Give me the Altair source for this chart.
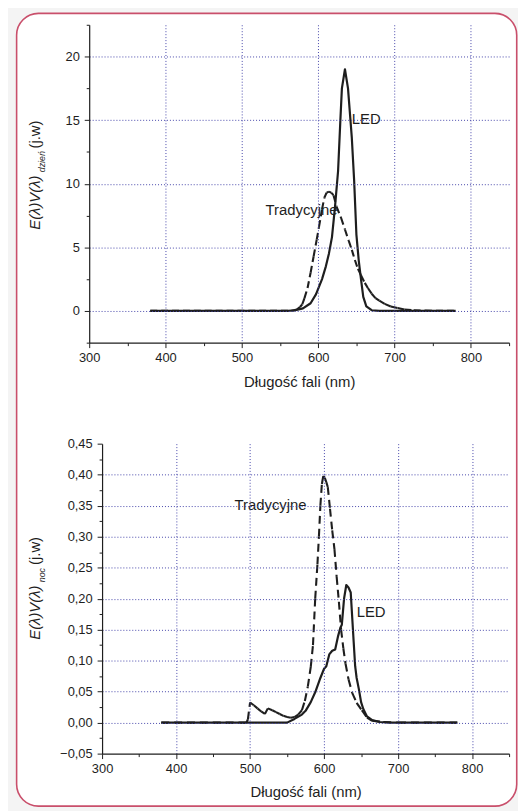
import altair as alt
import pandas as pd

FONT = "Liberation Sans"
INK = "#1e1e1e"

# ---------------- data ----------------
x_ticks = [300, 350, 400, 450, 500, 550, 600, 650, 700, 750, 800, 850]

# top panel: E(λ)V(λ) dzień
top_led_x = [380, 560, 570, 580, 590, 597, 605, 610, 614, 618, 622, 626, 629, 631, 635, 639,
             644, 647, 650, 653, 656, 659, 663, 670, 680, 780]
top_led_y = [0, 0, 0.05, 0.2, 0.6, 1.3, 2.5, 3.5, 4.5, 5.8, 8.2, 11.0, 15.0, 17.5, 19.0, 17.5,
             13.6, 10.3, 6.0, 4.0, 2.5, 1.1, 0.35, 0.05, 0, 0]
top_trad_x = [380, 565, 572, 576, 579, 582, 586, 590, 594, 598, 601, 605, 608, 611, 614, 617,
              620, 624, 630, 635, 640, 644, 648, 652, 656, 661, 665, 670, 675, 680, 687, 695,
              704, 713, 725, 740, 780]
top_trad_y = [0, 0, 0.1, 0.3, 0.5, 1.0, 1.8, 3.0, 4.3, 5.6, 6.6, 8.0, 8.9, 9.3, 9.38, 9.3,
              9.1, 8.2, 7.3, 6.4, 5.5, 4.8, 4.0, 3.3, 2.8, 2.2, 1.8, 1.35, 1.0, 0.8, 0.55, 0.35,
              0.22, 0.1, 0.05, 0.02, 0]
top_y_ticks = [-2.5, 0, 2.5, 5, 7.5, 10, 12.5, 15, 17.5, 20, 22.5]
top_label_text = ["LED", "Tradycyjne"]
top_label_x = [644, 531]
top_label_y = [15.1, 7.95]

# bottom panel: E(λ)V(λ) noc
bot_led_x = [380, 550, 560, 570, 575, 582, 588, 595, 600, 603, 607, 611, 615, 619, 622, 624,
             627, 630, 633, 636, 640, 642, 644, 647, 650, 653, 658, 665, 675, 690, 780]
bot_led_y = [0, 0, 0.006, 0.013, 0.019, 0.033, 0.049, 0.072, 0.087, 0.091, 0.11, 0.116, 0.118,
             0.14, 0.153, 0.158, 0.2, 0.222, 0.218, 0.21, 0.13, 0.091, 0.072, 0.054, 0.033,
             0.022, 0.01, 0.004, 0.001, 0, 0]
bot_trad_x = [380, 495, 497, 500, 505, 510, 515, 520, 524, 530, 535, 540, 545, 550, 555, 560,
              565, 570, 574, 578, 582, 585, 588, 591, 593, 595, 597, 599, 601, 603, 605, 608,
              611, 614, 617, 620, 623, 626, 629, 633, 638, 644, 651, 658, 665, 680, 700, 780]
bot_trad_y = [0, 0, 0.005, 0.0325, 0.028, 0.023, 0.018, 0.014, 0.023, 0.02, 0.017, 0.014,
              0.011, 0.009, 0.008, 0.009, 0.013, 0.02, 0.035, 0.058, 0.09, 0.125, 0.2, 0.255,
              0.3, 0.35, 0.385, 0.398, 0.395, 0.388, 0.38, 0.345, 0.31, 0.28, 0.235, 0.195,
              0.15, 0.12, 0.095, 0.07, 0.048, 0.032, 0.02, 0.008, 0.003, 0.001, 0, 0]
bot_y_ticks = [-0.05, -0.025, 0, 0.025, 0.05, 0.075, 0.1, 0.125, 0.15, 0.175, 0.2, 0.225, 0.25,
               0.275, 0.3, 0.325, 0.35, 0.375, 0.4, 0.425, 0.45]
bot_label_text = ["Tradycyjne", "LED"]
bot_label_x = [479, 644]
bot_label_y = [0.351, 0.178]

X_TITLE = "Długość fali (nm)"


# ---------------- helpers ----------------
def common_axis(**kw):
    base = dict(
        grid=True, gridColor="#4646aa", gridDash=[1, 2], gridWidth=1,
        domainColor=INK, domainWidth=1.2, tickColor=INK, tickWidth=1,
        labelFont=FONT, labelFontSize=13, labelColor=INK, labelOverlap=False,
        labelFlush=False, titleFont=FONT, titleFontSize=15, titleFontWeight="normal",
        titleColor=INK, zindex=1, tickCount=200,
    )
    base.update(kw)
    return alt.Axis(**base)


def x_axis(title_pad):
    return common_axis(
        values=x_ticks, title=X_TITLE, labelPadding=4, titlePadding=title_pad,
        labelExpr="datum.value % 100 == 0 ? format(datum.value, 'd') : ''",
        tickSize={"condition": {"test": "datum.value % 100 != 0", "value": 3}, "value": 5},
        gridOpacity={"condition": {"test": "datum.value % 100 != 0 || datum.value == 300",
                                   "value": 0}, "value": 1},
    )


top_y_axis = common_axis(
    values=top_y_ticks, title=None, labelPadding=5,
    labelExpr="datum.value % 5 == 0 ? format(datum.value, 'd') : ''",
    tickSize={"condition": {"test": "datum.value % 5 != 0", "value": 3}, "value": 5},
    gridOpacity={"condition": {"test": "datum.value % 5 != 0", "value": 0}, "value": 1},
)
bot_y_axis = common_axis(
    values=bot_y_ticks, title=None, labelPadding=5,
    labelExpr="abs(round(datum.value*1000)) % 50 == 0 ? "
              "replace(format(datum.value, '.2f'), '.', ',') : ''",
    tickSize={"condition": {"test": "abs(round(datum.value*1000)) % 50 != 0", "value": 3},
              "value": 5},
    gridOpacity={"condition": {"test": "abs(round(datum.value*1000)) % 50 != 0 || "
                                       "datum.value > 0.44 || datum.value < -0.04",
                               "value": 0}, "value": 1},
)

one = pd.DataFrame({"k": [0]})


def panel(led_x, led_y, trad_x, trad_y, ydom, yaxis, xaxis, lab_t, lab_x, lab_y,
          dash, width, height, sub_text, title_geo, frame=None):
    xs = alt.Scale(domain=[300, 850], nice=False, zero=False)
    ys = alt.Scale(domain=ydom, nice=False, zero=False)
    led = pd.DataFrame({"x": led_x, "y": led_y})
    seg = pd.DataFrame({"x": trad_x[:-1], "x2": trad_x[1:],
                        "y": trad_y[:-1], "y2": trad_y[1:]})
    labs = pd.DataFrame({"x": lab_x, "y": lab_y, "t": lab_t})

    layers = []
    if frame is not None:
        fx, fx2, fy, fy2 = frame
        layers.append(
            alt.Chart(one).mark_rect(fill="white", stroke="#c94f6b", strokeWidth=1.6,
                                     cornerRadius=22)
            .encode(x=alt.value(fx), x2=alt.value(fx2), y=alt.value(fy), y2=alt.value(fy2))
        )
    layers.append(
        alt.Chart(led).mark_line(color=INK, strokeWidth=2.2, strokeJoin="round")
        .encode(x=alt.X("x:Q", scale=xs, axis=xaxis), y=alt.Y("y:Q", scale=ys, axis=yaxis))
    )
    layers.append(
        alt.Chart(seg).mark_rule(color=INK, strokeWidth=2.1, strokeDash=dash, strokeCap="butt")
        .encode(x=alt.X("x:Q", scale=xs, axis=xaxis), x2="x2:Q",
                y=alt.Y("y:Q", scale=ys, axis=yaxis), y2="y2:Q")
    )
    layers.append(
        alt.Chart(labs).mark_text(align="left", baseline="middle", font=FONT, fontSize=15,
                                  color=INK)
        .encode(x=alt.X("x:Q", scale=xs, axis=xaxis), y=alt.Y("y:Q", scale=ys, axis=yaxis),
                text="t:N")
    )
    # rotated y-axis title with subscript: E(λ)V(λ)_sub (j.w)
    bx, sx, y1, y2, y3 = title_geo
    layers.append(
        alt.Chart(one).mark_text(text="E(λ)V(λ)", angle=270, align="left",
                                 baseline="alphabetic", font=FONT, fontSize=15,
                                 fontStyle="italic", color=INK)
        .encode(x=alt.value(bx), y=alt.value(y1))
    )
    layers.append(
        alt.Chart(one).mark_text(text=sub_text, angle=270, align="left",
                                 baseline="alphabetic", font=FONT, fontSize=9,
                                 fontStyle="italic", color=INK)
        .encode(x=alt.value(sx), y=alt.value(y2))
    )
    layers.append(
        alt.Chart(one).mark_text(text="(j.w)", angle=270, align="left",
                                 baseline="alphabetic", font=FONT, fontSize=15, color=INK)
        .encode(x=alt.value(bx), y=alt.value(y3))
    )
    return alt.layer(*layers).properties(width=width, height=height)


top = panel(top_led_x, top_led_y, top_trad_x, top_trad_y, [-2.5, 22.5], top_y_axis,
            x_axis(10), top_label_text, top_label_x, top_label_y, [7, 4], 424, 321,
            "dzień", (-50, -45, 207, 149, 125),
            frame=(-73.3, 431.7, -11.5, 789))

bottom = panel(bot_led_x, bot_led_y, bot_trad_x, bot_trad_y, [-0.05, 0.45], bot_y_axis,
               x_axis(9), bot_label_text, bot_label_x, bot_label_y, [8, 5], 411, 313,
               "noc", (-63, -58, 198, 140, 122.5))

spacer = alt.Chart(one).mark_point(opacity=0).properties(width=13, height=10)

bottom_row = alt.hconcat(spacer, bottom, spacing=0, bounds="flush")

chart = alt.vconcat(top, bottom_row, spacing=102, bounds="flush").properties(
    background="#f4f4f4",
    padding={"left": 7, "top": 0, "right": 0, "bottom": 0},
).configure_view(strokeWidth=0)

chart.save("out.html", embed_options={"renderer": "svg", "actions": False})
